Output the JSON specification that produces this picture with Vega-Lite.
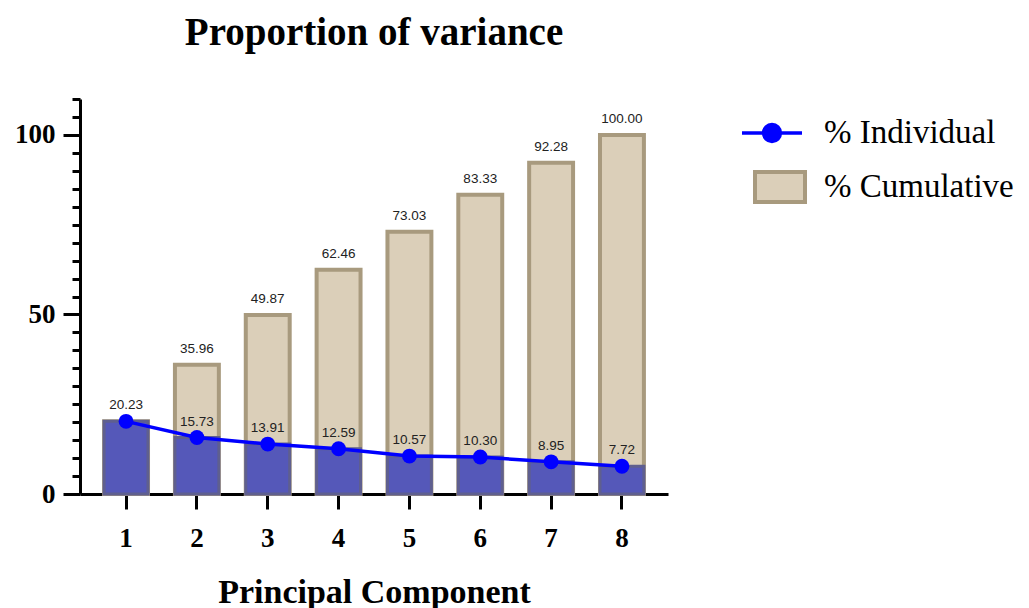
{
  "$schema": "https://vega.github.io/schema/vega-lite/v6.json",
  "width": 588,
  "height": 395,
  "autosize": "none",
  "padding": {"left": 80, "top": 99, "right": 361, "bottom": 114},
  "background": "white",
  "config": {"view": {"stroke": null}},
  "title": {"text": "Proportion of variance", "font": "Liberation Serif", "fontSize": 39, "fontWeight": "bold", "color": "black", "anchor": "middle", "offset": 45},
  "data": {"values": [
    {"pc": "1", "individual": 20.23, "cumulative": 20.23, "indLabel": "20.23", "cumLabel": "20.23"},
    {"pc": "2", "individual": 15.73, "cumulative": 35.96, "indLabel": "15.73", "cumLabel": "35.96"},
    {"pc": "3", "individual": 13.91, "cumulative": 49.87, "indLabel": "13.91", "cumLabel": "49.87"},
    {"pc": "4", "individual": 12.59, "cumulative": 62.46, "indLabel": "12.59", "cumLabel": "62.46"},
    {"pc": "5", "individual": 10.57, "cumulative": 73.03, "indLabel": "10.57", "cumLabel": "73.03"},
    {"pc": "6", "individual": 10.30, "cumulative": 83.33, "indLabel": "10.30", "cumLabel": "83.33"},
    {"pc": "7", "individual": 8.95, "cumulative": 92.28, "indLabel": "8.95", "cumLabel": "92.28"},
    {"pc": "8", "individual": 7.72, "cumulative": 100.00, "indLabel": "7.72", "cumLabel": "100.00"}
  ]},
  "encoding": {
    "x": {"field": "pc", "type": "nominal", "sort": null,
      "scale": {"paddingInner": 0.38, "paddingOuter": 0.34},
      "axis": {"title": "Principal Component", "titleFont": "Liberation Serif", "titleFontSize": 34, "titleFontWeight": "bold", "titleColor": "black", "titlePadding": 24,
        "labelFont": "Liberation Serif", "labelFontSize": 27, "labelFontWeight": "bold", "labelColor": "black", "labelAngle": 0, "labelPadding": 16,
        "domainColor": "black", "domainWidth": 3, "tickColor": "black", "tickWidth": 3, "tickSize": 15, "grid": false}}
  },
  "resolve": {"axis": {"y": "independent"}},
  "layer": [
    {
      "mark": {"type": "bar", "stroke": "#a89a7e", "strokeWidth": 4},
      "encoding": {
        "y": {"field": "cumulative", "type": "quantitative", "scale": {"domain": [0, 110], "nice": false},
          "axis": {"orient": "left", "title": null, "values": [0, 50, 100], "labelFont": "Liberation Serif", "labelFontSize": 27, "labelFontWeight": "bold", "labelColor": "black", "labelPadding": 8,
            "domainColor": "black", "domainWidth": 3, "tickColor": "black", "tickWidth": 3, "tickSize": 17, "grid": false}},
        "fill": {"datum": "% Cumulative", "scale": {"range": ["#dbcfb9"]},
          "legend": {"title": null, "orient": "none", "legendX": 673, "legendY": 61, "padding": 0, "labelLimit": 0,
            "symbolType": "M-1,-0.6H1V0.6H-1Z", "symbolSize": 2500, "symbolStrokeColor": "#a89a7e", "symbolStrokeWidth": 4,
            "labelFont": "Liberation Serif", "labelFontSize": 33, "labelColor": "black", "labelOffset": 17}}
      }
    },
    {
      "mark": {"type": "bar", "fill": "#5558b9", "stroke": "#5f5f8f", "strokeWidth": 3},
      "encoding": {
        "y": {"field": "individual", "type": "quantitative", "scale": {"domain": [0, 110], "nice": false},
          "axis": {"orient": "left", "title": null, "values": [5, 10, 15, 20, 25, 30, 35, 40, 45, 55, 60, 65, 70, 75, 80, 85, 90, 95, 105, 110], "labels": false, "domain": false,
            "tickColor": "black", "tickWidth": 3, "tickSize": 8, "grid": false}}
      }
    },
    {
      "mark": {"type": "line", "strokeWidth": 3.5},
      "encoding": {
        "y": {"field": "individual", "type": "quantitative", "axis": null},
        "stroke": {"datum": "% Individual", "scale": {"range": ["#0000ff"]},
          "legend": {"title": null, "orient": "none", "legendX": 660, "legendY": 2, "padding": 0, "labelLimit": 0,
            "symbolType": "M-1,0H1M-0.28,0A0.28,0.28 0 1,1 0.28,0A0.28,0.28 0 1,1 -0.28,0Z", "symbolSize": 3600, "symbolStrokeWidth": 3.5, "symbolFillColor": "#0000ff",
            "labelFont": "Liberation Serif", "labelFontSize": 33, "labelColor": "black", "labelOffset": 20,
            "encode": {"symbols": {"update": {"fill": {"value": "#0000ff"}, "stroke": {"value": "#0000ff"}}}}}}
      }
    },
    {
      "mark": {"type": "point", "filled": true, "fill": "#0000ff", "opacity": 1, "size": 220},
      "encoding": {
        "y": {"field": "individual", "type": "quantitative", "axis": null}
      }
    },
    {
      "transform": [{"filter": "datum.pc != '1'"}],
      "mark": {"type": "text", "font": "Liberation Sans", "fontSize": 13.5, "color": "#222222", "baseline": "middle", "dy": -16},
      "encoding": {
        "y": {"field": "cumulative", "type": "quantitative", "axis": null},
        "text": {"field": "cumLabel"}
      }
    },
    {
      "mark": {"type": "text", "font": "Liberation Sans", "fontSize": 13.5, "color": "#222222", "baseline": "middle", "dy": -16},
      "encoding": {
        "y": {"field": "individual", "type": "quantitative", "axis": null},
        "text": {"field": "indLabel"}
      }
    }
  ]
}
